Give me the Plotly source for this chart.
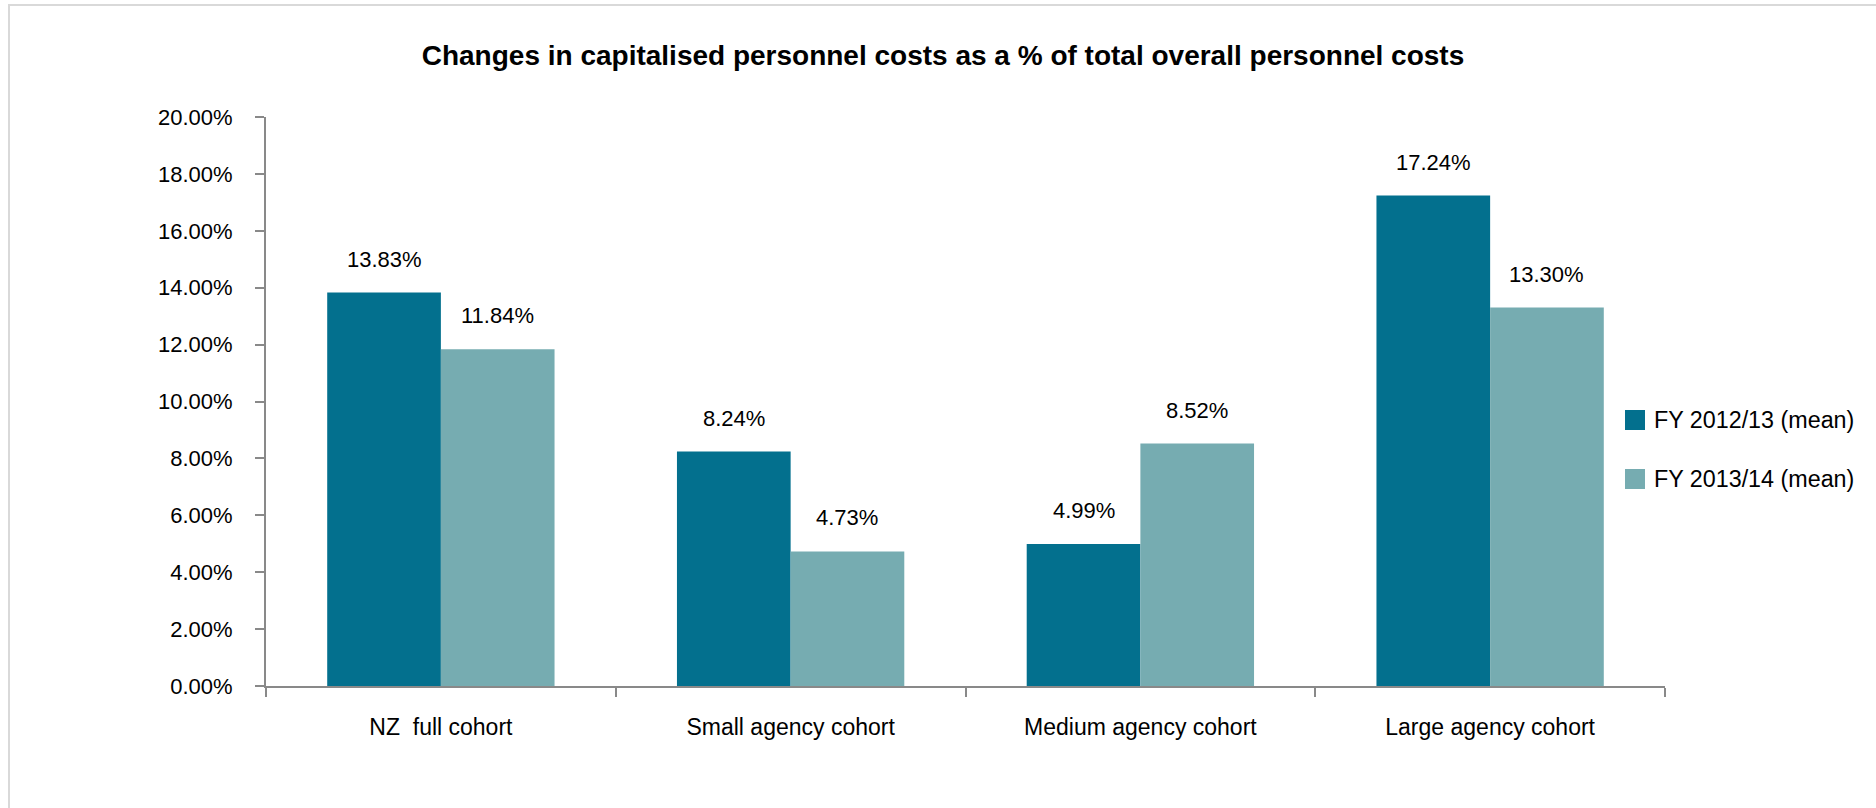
import plotly.graph_objects as go

# Chart data
categories = ["NZ  full cohort", "Small agency cohort", "Medium agency cohort", "Large agency cohort"]
series_names = ["FY 2012/13 (mean)", "FY 2013/14 (mean)"]
fy_2012_13 = [0.1383, 0.0824, 0.0499, 0.1724]
fy_2013_14 = [0.1184, 0.0473, 0.0852, 0.1330]
y_ticks = [0.00, 0.02, 0.04, 0.06, 0.08, 0.10, 0.12, 0.14, 0.16, 0.18, 0.20]

# Styling
FONT = "Arial, 'Liberation Sans', sans-serif"
DARK = "#03708E"
LIGHT = "#76ACB1"
AXIS = "#898989"
W, H = 1876, 808
ML, MR, MT, MB = 266, 211, 117, 122
BARGAP = 0.35

plot_w = W - ML - MR
plot_h = H - MT - MB


def px_x(px):
    return (px - ML) / plot_w


def px_y(py):
    return (H - MB - py) / plot_h


fig = go.Figure()
for name, vals, color in [(series_names[0], fy_2012_13, DARK), (series_names[1], fy_2013_14, LIGHT)]:
    fig.add_trace(go.Bar(
        name=name, x=categories, y=vals, marker=dict(color=color, line=dict(width=0)),
        showlegend=False, hoverinfo="x+y",
    ))

# Value labels above each bar
half = (1 - BARGAP) / 4
annotations = []
for offset, vals in [(-half, fy_2012_13), (half, fy_2013_14)]:
    for i, v in enumerate(vals):
        annotations.append(dict(
            x=i + offset, y=v, xref="x", yref="y", text=f"{v * 100:.2f}%",
            showarrow=False, yanchor="bottom", yshift=19,
            font=dict(family=FONT, size=22, color="#000000"),
        ))

# Legend drawn as swatches with labels
shapes = []
for k, (name, color) in enumerate([(series_names[0], DARK), (series_names[1], LIGHT)]):
    top = 410 + k * 59
    shapes.append(dict(
        type="rect", xref="paper", yref="paper",
        x0=px_x(1625), x1=px_x(1645), y0=px_y(top + 20), y1=px_y(top),
        fillcolor=color, line=dict(width=0),
    ))
    annotations.append(dict(
        x=px_x(1652), y=px_y(top + 10), xref="paper", yref="paper", text=name,
        showarrow=False, xanchor="left", yanchor="middle",
        font=dict(family=FONT, size=23.3, color="#000000"),
    ))

# Outer frame
shapes.append(dict(
    type="rect", xref="paper", yref="paper", layer="below",
    x0=px_x(9), x1=px_x(W + 20), y0=px_y(H + 20), y1=px_y(5),
    line=dict(color="#D9D9D9", width=2), fillcolor="rgba(0,0,0,0)",
))

fig.update_layout(
    width=W, height=H,
    margin=dict(l=ML, r=MR, t=MT, b=MB, pad=0),
    paper_bgcolor="white", plot_bgcolor="white",
    barmode="group", bargap=BARGAP, bargroupgap=0,
    title=dict(
        text="<b>Changes in capitalised personnel costs as a % of total overall personnel costs</b>",
        x=943 / W, xref="container", xanchor="center",
        y=1 - 55 / H, yref="container", yanchor="middle",
        font=dict(family=FONT, size=28, color="#000000"),
    ),
    xaxis=dict(
        type="category", showline=True, linecolor=AXIS, linewidth=2,
        ticks="outside", tickson="boundaries", ticklen=9, tickwidth=2, tickcolor=AXIS,
        showgrid=False, zeroline=False, ticklabelstandoff=19,
        tickfont=dict(family=FONT, size=23, color="#000000"),
    ),
    yaxis=dict(
        range=[0, 0.20], tickvals=y_ticks, tickformat=".2%",
        showline=True, linecolor=AXIS, linewidth=2,
        ticks="outside", ticklen=9, tickwidth=2, tickcolor=AXIS,
        showgrid=False, zeroline=False, ticklabelstandoff=18,
        tickfont=dict(family=FONT, size=22, color="#000000"),
    ),
    annotations=annotations, shapes=shapes,
    showlegend=False,
)

fig.write_html("out.html")
